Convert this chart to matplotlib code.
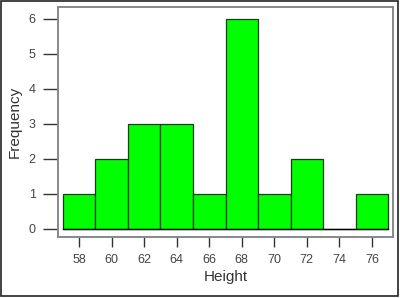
import numpy as np
import matplotlib
matplotlib.use("Agg")
import matplotlib.pyplot as plt
from matplotlib.patches import Rectangle

# histogram of heights, bins of width 2
bin_edges = [57, 59, 61, 63, 65, 67, 69, 71, 73, 75, 77]
counts = [1, 2, 3, 3, 1, 6, 1, 2, 0, 1]
x_ticks = [58, 60, 62, 64, 66, 68, 70, 72, 74, 76]
y_ticks = [0, 1, 2, 3, 4, 5, 6]

plt.rcParams['font.family'] = ['Liberation Sans', 'DejaVu Sans']

fig = plt.figure(figsize=(4, 2.98), dpi=100)
ax = fig.add_axes([0.145, 0.205, 0.8375, 0.772])

lefts = np.array(bin_edges[:-1])
widths = np.diff(bin_edges)
ax.bar(lefts, counts, width=widths, align='edge', color='#00ff00',
       edgecolor='#1a3a1a', linewidth=0.9)
ax.plot([bin_edges[0], bin_edges[-1]], [0, 0], color='black', lw=1.0)

ax.set_xlim(56.7, 77.3)
ax.set_ylim(-0.23, 6.34)
ax.set_xticks(x_ticks)
ax.set_yticks(y_ticks)
ax.tick_params(axis='y', length=11, width=1, color='#333333', labelsize=9,
               labelcolor='#444444', pad=5)
ax.tick_params(axis='x', length=7, width=1, color='#333333', labelsize=9,
               labelcolor='#444444', pad=5)
for s in ax.spines.values():
    s.set_color('#888888')
    s.set_linewidth(1.4)

ax.set_xlabel('Height', fontsize=11, color='#333333', labelpad=3)
ax.set_ylabel('Frequency', fontsize=11, color='#333333', labelpad=5)

fig.patches.append(Rectangle((0.003, 0.006), 0.992, 0.99, transform=fig.transFigure,
                             fill=False, edgecolor='#222222', linewidth=1.2))

fig.savefig('out.png', dpi=100)
